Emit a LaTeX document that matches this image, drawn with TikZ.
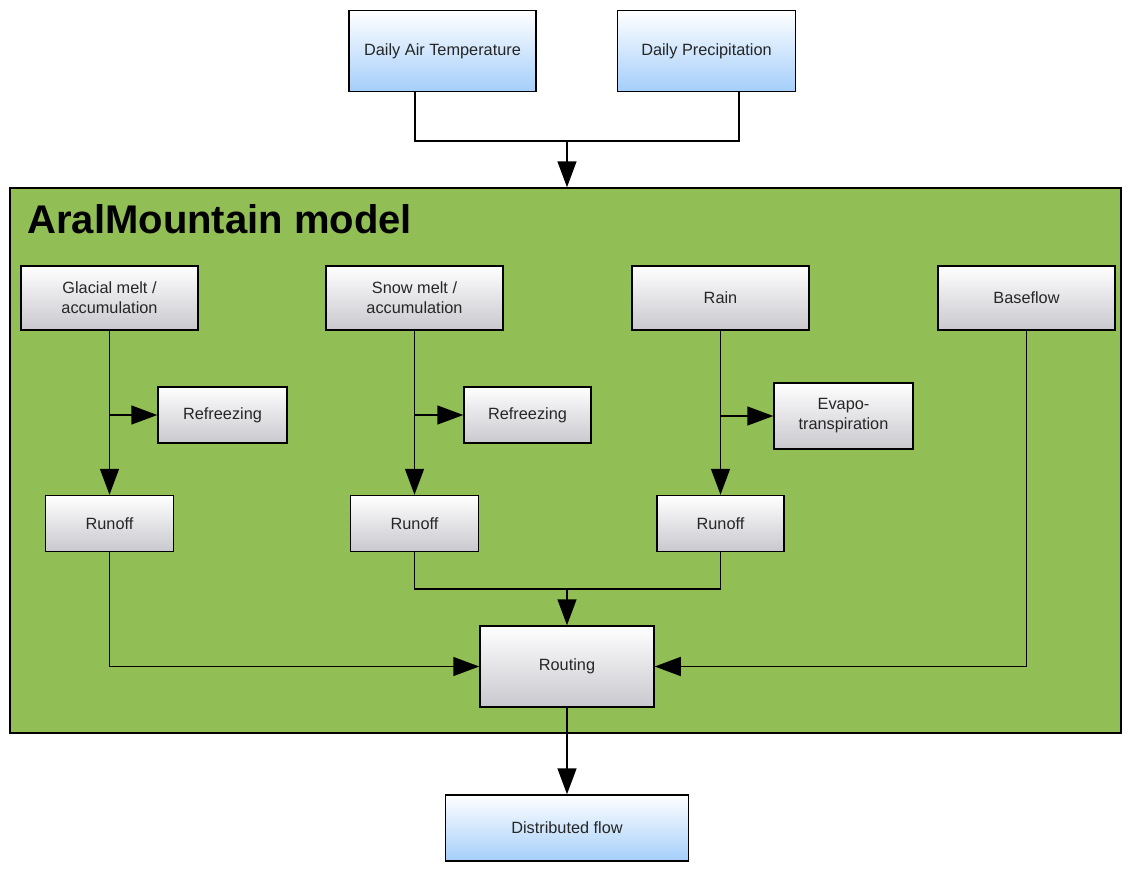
\documentclass[tikz,border=0pt]{standalone}
\usepackage{fontspec}
\setmainfont{Liberation Sans}
\usetikzlibrary{arrows.meta}
\definecolor{modelgreen}{RGB}{146,190,86}
\definecolor{inputblue}{RGB}{164,206,250}
\definecolor{procgray}{RGB}{200,200,206}

\begin{document}
\begin{tikzpicture}[x=1pt, y=-1pt,
    link/.style={line width=1.5pt},
    flow/.style={line width=1.5pt, -{Triangle[length=26pt, width=19pt]}},
    box/.style={draw, line width=1.5pt, inner sep=0pt, align=center,
        font=\fontsize{16.3}{20}\selectfont, text=black!85},
    inbox/.style={box, top color=white, bottom color=inputblue, minimum height=81pt},
    procbox/.style={box, top color=white, bottom color=procgray, minimum height=64pt, minimum width=177pt}]
    \useasboundingbox (0,0) rectangle (1122,868);

    % model frame
    \node[draw, line width=1.5pt, fill=modelgreen, inner sep=0pt,
        minimum width=1111pt, minimum height=545pt] (model) at (565.5,460.5) {};
    \node[anchor=base west, font=\bfseries\fontsize{40}{40}\selectfont] (title) at (24,233) {AralMountain model};

    % inputs and output
    \node[inbox, minimum width=187pt] (temp) at (442.5,51) {Daily Air Temperature};
    \node[inbox, minimum width=178pt] (precip) at (706.5,51) {Daily Precipitation};
    \node[inbox, minimum width=243pt, minimum height=66pt] (dist) at (567,828) {Distributed flow};

    % sources
    \node[procbox] (glacial) at (109.5,298) {Glacial melt /\\accumulation};
    \node[procbox] (snow) at (414.5,298) {Snow melt /\\accumulation};
    \node[procbox] (rain) at (720.5,298) {Rain};
    \node[procbox] (base) at (1026.5,298) {Baseflow};

    % losses
    \node[procbox, minimum width=129pt, minimum height=56pt] (refglac) at (222.5,415) {Refreezing};
    \node[procbox, minimum width=127pt, minimum height=56pt] (refsnow) at (527.5,415) {Refreezing};
    \node[procbox, minimum width=139pt, minimum height=66pt] (evap) at (843.5,416) {Evapo-\\transpiration};

    % runoff
    \node[procbox, minimum width=128pt, minimum height=56pt] (runglac) at (109.5,523.5) {Runoff};
    \node[procbox, minimum width=128pt, minimum height=56pt] (runsnow) at (414.5,523.5) {Runoff};
    \node[procbox, minimum width=127pt, minimum height=56pt] (runrain) at (720.5,523.5) {Runoff};

    \node[procbox, minimum width=174pt, minimum height=81pt] (routing) at (567,666.5) {Routing};

    \coordinate (injoin) at (567,141);
    \coordinate (runjoin) at (567,589);

    \draw[link] ([xshift=-27.5pt]temp.south) |- (injoin) -| ([xshift=32.5pt]precip.south);
    \draw[flow] (injoin) -- (injoin |- model.north);

    \foreach \src/\loss/\run in {glacial/refglac/runglac, snow/refsnow/runsnow, rain/evap/runrain}{
        \draw[flow] (\src.south) -- (\run.north);
        \draw[flow] (\src.south |- \loss.west) -- (\loss.west);}

    \draw[link] (runsnow.south) |- (runjoin) -| (runrain.south);
    \draw[flow] (runjoin) -- (routing.north);
    \draw[flow] (runglac.south) |- (routing.west);
    \draw[flow] (base.south) |- (routing.east);
    \draw[flow] (routing.south) -- (dist.north);

\end{tikzpicture}
\end{document}
